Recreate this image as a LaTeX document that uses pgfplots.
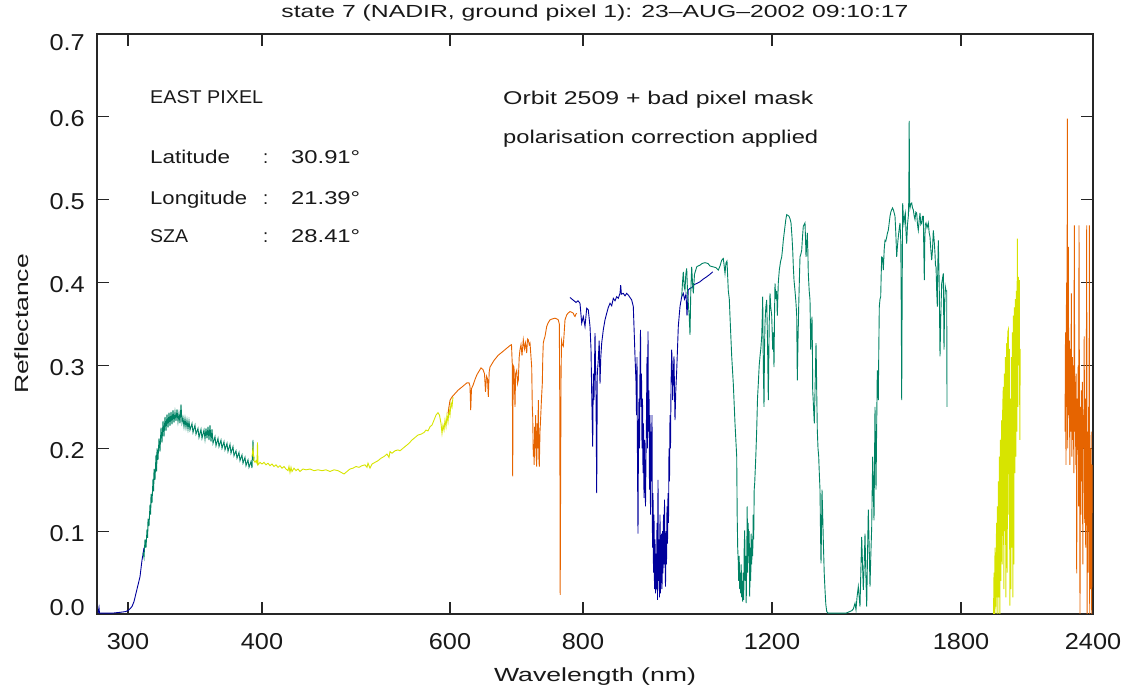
\documentclass[border=0pt]{standalone}
\usepackage{fontspec}
\setmainfont{Liberation Sans}
\usepackage{graphicx}
\usepackage{pgfplots}
\pgfplotsset{compat=1.18}
\definecolor{cnavy}{RGB}{0,0,155}
\definecolor{cteal}{RGB}{0,130,100}
\definecolor{cyel}{RGB}{215,228,0}
\definecolor{corange}{RGB}{230,100,0}
\newcommand\rb[2]{\resizebox{#1pt}{\height}{#2}}
\newcommand\tl[1]{\scalebox{1.1}[1]{#1}}
\begin{document}
\begin{tikzpicture}
\useasboundingbox (-97pt,-73pt) rectangle (1033pt,614pt);
\begin{axis}[
  at={(0pt,0pt)}, anchor=south west,
  scale only axis, width=996pt, height=580pt,
  xmin=97, xmax=1093, ymin=0, ymax=0.7,
  xtick={128,262,450,583,772,961,1093},
  xticklabels={\tl{300},\tl{400},\tl{600},\tl{800},\tl{1200},\tl{1800},\tl{2400}},
  ytick={0,0.1,0.2,0.3,0.4,0.5,0.6,0.7},
  yticklabels={\raisebox{8.5pt}[\height][\depth]{\tl{0.0}},\tl{0.1},\tl{0.2},\tl{0.3},\tl{0.4},\tl{0.5},\tl{0.6},\raisebox{-6.5pt}[\height][\depth]{\tl{0.7}}},
  tick align=inside, major tick length=12pt, minor tick num=0,
  axis line style={line width=1.2pt, black!85},
  every tick/.style={black!85, line width=1.2pt},
  xticklabel style={font=\fontsize{23pt}{23pt}\selectfont, text=black!90, anchor=north, inner sep=0pt, yshift=-19pt},
  yticklabel style={font=\fontsize{23pt}{23pt}\selectfont, text=black!90, anchor=east, inner sep=0pt, xshift=-12pt, yshift=-2pt},
  title={\rb{627}{state 7 (NADIR, ground pixel 1): 23--AUG--2002 09:10:17}},
  title style={at={(axis description cs:0.5,1.01724)}, anchor=base, inner sep=0pt, font=\fontsize{17.5pt}{19pt}\selectfont, text=black!90},
  xlabel={\rb{202}{Wavelength (nm)}},
  xlabel style={at={(axis description cs:0.5,-0.1172)}, anchor=base, inner sep=0pt, font=\fontsize{19pt}{20pt}\selectfont, text=black!90},
  ylabel={\rb{140}{Reflectance}},
  ylabel style={at={(axis description cs:-0.0683,0.5)}, anchor=base, inner sep=0pt, font=\fontsize{19pt}{20pt}\selectfont, text=black!90},
  every axis plot/.append style={line width=0.9pt, mark=none},
]
% channel 1
\addplot[cnavy] coordinates {(98,0.001) (99,0.008) (99.5,0.001) (105,0.001) (112,0.001) (120,0.002) (126,0.003) (129,0.005) (132,0.009) (134,0.015) (136,0.025) (138,0.035) (140,0.045) (141,0.055) (142,0.065) (143,0.072) (144,0.080)};
% channel 2
\addplot[cteal] coordinates {(143,0.074) (144,0.068) (145,0.09) (146,0.08) (147,0.102) (147.7,0.092) (148,0.115) (149,0.106) (150,0.132) (150.7,0.12) (151,0.145) (152,0.134) (153,0.163) (153.7,0.148) (154,0.175) (155,0.162) (156,0.192) (156.7,0.172) (157,0.2) (158,0.186) (159,0.212) (160,0.196) (161,0.225) (162,0.207) (163,0.233) (164,0.214) (165,0.238) (166,0.221) (167,0.241) (168,0.225) (169,0.243) (170,0.227) (171,0.244) (172,0.229) (173,0.246) (174,0.231) (175,0.244) (176,0.233) (177,0.247) (178,0.232) (179,0.242) (180,0.23) (181,0.253) (182,0.231) (183,0.237) (184,0.226) (185,0.236) (186,0.225) (187,0.234) (188,0.223) (189,0.233) (190,0.222) (192,0.23) (193,0.219) (195,0.228) (196,0.217) (198,0.224) (199,0.213) (201,0.223) (202,0.212) (204,0.222) (205,0.211) (206,0.224) (207,0.212) (208,0.226) (209,0.21) (210,0.228) (211,0.208) (212,0.223) (213,0.206) (215,0.214) (216,0.203) (218,0.212) (219,0.202) (221,0.21) (222,0.2) (224,0.208) (225,0.198) (227,0.206) (228,0.196) (230,0.205) (231,0.194) (233,0.202) (234,0.191) (236,0.197) (237,0.188) (239,0.195) (240,0.185) (242,0.192) (243,0.182) (245,0.189) (246,0.179) (248,0.186) (249,0.177) (251,0.184) (252,0.176) (253,0.21) (253.5,0.185) (254,0.19)};
% channel 3
\addplot[cyel] coordinates {(252,0.19) (253,0.2) (254,0.185) (255,0.183) (256,0.185) (257,0.182) (257.5,0.207) (258,0.18) (260,0.183) (262,0.181) (264,0.183) (266,0.18) (268,0.182) (270,0.179) (272,0.181) (274,0.178) (276,0.18) (278,0.177) (280,0.179) (282,0.176) (284,0.178) (286,0.175) (288,0.173) (289,0.178) (290,0.171) (291,0.177) (292,0.172) (294,0.176) (296,0.173) (298,0.175) (300,0.172) (303,0.175) (306,0.174) (310,0.175) (314,0.173) (318,0.174) (322,0.173) (326,0.174) (330,0.172) (334,0.174) (338,0.173) (341,0.171) (344,0.169) (347,0.172) (350,0.175) (353,0.176) (356,0.178) (359,0.177) (362,0.179) (365,0.18) (367,0.177) (368,0.182) (370,0.176) (372,0.181) (375,0.183) (378,0.185) (381,0.188) (384,0.19) (387,0.193) (389,0.189) (390,0.196) (392,0.194) (395,0.197) (398,0.198) (400,0.197) (403,0.2) (406,0.203) (409,0.206) (412,0.21) (415,0.213) (418,0.216) (421,0.217) (424,0.219) (426,0.222) (428,0.221) (430,0.226) (432,0.228) (434,0.234) (436,0.24) (438,0.243) (439.5,0.24) (441,0.23) (442,0.218) (443,0.228) (444,0.222) (445,0.234) (446,0.226) (447,0.24) (448,0.232) (449,0.247) (450,0.24) (451,0.255) (452,0.25) (453,0.262)};
% channel 4
\addplot[corange] coordinates {(448,0.242) (449,0.25) (450,0.258) (452,0.262) (455,0.266) (458,0.27) (461,0.273) (464,0.276) (467,0.279) (469,0.279) (470,0.275) (470.7,0.246) (471.5,0.272) (473,0.276) (475,0.283) (477,0.289) (479,0.293) (481,0.297) (483,0.295) (484.5,0.29) (485.5,0.268) (486.5,0.287) (487.5,0.284) (488.3,0.262) (489.2,0.292) (490,0.298) (492,0.302) (494,0.306) (496,0.309) (498,0.312) (500,0.314) (502,0.316) (504,0.318) (506,0.32) (508,0.322) (510,0.324) (511.5,0.325) (512.3,0.30) (512.7,0.166) (513.2,0.30) (514,0.298) (514.6,0.27) (515,0.25) (515.6,0.29) (516.7,0.294) (517.5,0.278) (518.3,0.282) (519.2,0.31) (520,0.319) (521,0.325) (522,0.312) (523.3,0.331) (524.5,0.32) (525.5,0.327) (526.7,0.315) (527.5,0.332) (528.3,0.331) (529.2,0.325) (530,0.327) (531,0.31) (531.7,0.298) (532.3,0.25) (532.7,0.238) (533.3,0.19) (533.8,0.205) (534.2,0.18) (534.7,0.226) (535.2,0.2) (535.7,0.24) (536.2,0.19) (536.7,0.178) (537.3,0.23) (537.8,0.2) (538.3,0.258) (538.8,0.19) (539.3,0.178) (540,0.22) (540.7,0.238) (541.5,0.26) (542.3,0.278) (542.8,0.31) (543.3,0.327) (544,0.331) (545,0.335) (546,0.342) (546.7,0.347) (548,0.351) (550,0.355) (552,0.356) (555,0.357) (557,0.356) (558.3,0.355) (559.3,0.35) (559.8,0.25) (560.2,0.023) (560.6,0.15) (561,0.28) (561.5,0.33) (562.3,0.325) (563.3,0.323) (565,0.355) (566.7,0.361) (568,0.363) (570,0.365) (572,0.364) (573.3,0.363) (574.3,0.36) (575,0.359) (576,0.362) (576.7,0.363)};
% channel 5
\addplot[cnavy] coordinates {(570,0.382) (573,0.379) (576,0.376) (578,0.378) (580,0.375) (581.7,0.351) (583.3,0.359) (585,0.347) (586.7,0.369) (588.3,0.367) (590,0.347) (591,0.32) (591.7,0.266) (592.7,0.202) (593.3,0.29) (594,0.258) (595,0.339) (596,0.266) (596.7,0.146) (597.3,0.29) (598.3,0.307) (599.2,0.33) (600,0.278) (600.8,0.31) (601.7,0.327) (603.3,0.343) (605,0.355) (606.7,0.363) (608.3,0.37) (610,0.375) (611.7,0.372) (613.3,0.381) (615,0.378) (616.7,0.383) (618.3,0.381) (620,0.387) (620.7,0.397) (621.4,0.386) (623.3,0.387) (625,0.384) (626.7,0.387) (628.3,0.385) (630,0.382) (631.7,0.379) (633.3,0.371) (634.2,0.34) (635,0.311) (636,0.28) (636.5,0.24) (637,0.31) (637.5,0.18) (638,0.097) (638.5,0.22) (639,0.26) (639.5,0.2) (640,0.3) (640.5,0.343) (641,0.25) (641.5,0.29) (642,0.2) (642.5,0.26) (643,0.17) (643.5,0.23) (644,0.14) (644.5,0.21) (645,0.17) (645.5,0.13) (646,0.19) (646.5,0.24) (647,0.31) (647.5,0.2) (648,0.341) (648.5,0.22) (649,0.27) (649.5,0.15) (650,0.24) (650.5,0.12) (651,0.22) (651.5,0.16) (652,0.24) (652.5,0.08) (653,0.146) (653.5,0.05) (654,0.12) (654.5,0.03) (655,0.09) (655.5,0.025) (656,0.073) (656.5,0.03) (657,0.11) (657.5,0.017) (658,0.162) (658.5,0.04) (659,0.09) (659.5,0.02) (660,0.12) (660.5,0.025) (661,0.08) (661.5,0.097) (662,0.03) (662.5,0.1) (663,0.049) (663.5,0.12) (664,0.06) (664.5,0.138) (665,0.07) (665.5,0.033) (666,0.1) (666.5,0.06) (667,0.13) (667.5,0.085) (668,0.146) (668.5,0.11) (669,0.2) (669.5,0.16) (670,0.24) (670.5,0.2) (671,0.274) (671.7,0.319) (672.2,0.3) (672.7,0.258) (673.3,0.29) (674,0.311) (674.5,0.27) (675,0.234) (675.8,0.27) (676.7,0.294) (677.5,0.32) (678.3,0.347) (679.2,0.36) (680,0.371) (681.7,0.383) (683.3,0.387) (684.5,0.38) (686,0.386) (687,0.36) (688.3,0.391) (690,0.393) (692,0.394) (693.3,0.397) (695,0.398) (697,0.399) (700,0.401) (703,0.404) (706.7,0.407) (710,0.41) (712.7,0.413)};
% channel 6
\addplot[cteal] coordinates {(681.7,0.383) (682.5,0.40) (683.3,0.413) (684.2,0.395) (685,0.391) (685.8,0.41) (686.7,0.417) (687.5,0.39) (688.3,0.375) (689.2,0.36) (690,0.337) (690.8,0.39) (691.7,0.419) (692.5,0.40) (693.3,0.387) (694.5,0.41) (695.5,0.414) (696.7,0.419) (698,0.42) (700,0.421) (702,0.423) (705,0.424) (708,0.423) (710,0.42) (713,0.419) (716,0.418) (718.3,0.415) (720,0.42) (721.7,0.427) (723.3,0.429) (724,0.422) (725,0.411) (726,0.424) (727,0.426) (728.3,0.39) (729.3,0.38) (730,0.359) (731.7,0.311) (733.3,0.278) (735,0.23) (736.7,0.19) (737.2,0.117) (737.7,0.08) (738.2,0.065) (738.7,0.04) (739.2,0.07) (739.7,0.03) (740.2,0.05) (740.7,0.025) (741.2,0.06) (741.7,0.02) (742.2,0.04) (742.7,0.015) (743.2,0.05) (743.7,0.017) (744.2,0.08) (744.7,0.101) (745.2,0.04) (745.7,0.07) (746.2,0.013) (746.7,0.06) (747.2,0.13) (747.7,0.05) (748.2,0.11) (748.7,0.07) (749.2,0.1) (749.7,0.021) (750.2,0.08) (750.7,0.04) (751.2,0.097) (751.7,0.06) (752.2,0.09) (752.7,0.07) (753.2,0.12) (753.7,0.09) (754.2,0.15) (754.7,0.158) (755.8,0.19) (756.7,0.222) (757.5,0.26) (758.3,0.278) (759.2,0.3) (760,0.311) (760.8,0.32) (761.7,0.335) (762.3,0.36) (762.7,0.383) (763.3,0.3) (764,0.25) (764.5,0.32) (765,0.351) (765.8,0.37) (766.7,0.379) (767.5,0.33) (768.3,0.258) (769.2,0.35) (770,0.387) (770.8,0.37) (771.7,0.36) (772.2,0.34) (772.7,0.319) (773.3,0.34) (774,0.298) (774.5,0.36) (775,0.399) (775.8,0.38) (776.7,0.39) (777.3,0.36) (778.3,0.40) (779.3,0.415) (780.5,0.425) (781.7,0.431) (782.5,0.44) (783.3,0.451) (784.2,0.46) (785,0.468) (785.8,0.476) (786.7,0.482) (788,0.481) (789,0.48) (790,0.477) (791,0.472) (792,0.455) (792.7,0.439) (793.3,0.42) (794,0.403) (795,0.39) (796,0.375) (796.7,0.36) (797.3,0.282) (798,0.33) (798.7,0.371) (799.3,0.40) (800,0.431) (801,0.435) (801.7,0.439) (802.5,0.455) (803.3,0.468) (804.2,0.47) (805,0.472) (805.6,0.45) (806,0.431) (806.7,0.445) (807.3,0.46) (807.8,0.44) (808.3,0.411) (809.2,0.39) (810,0.379) (810.5,0.34) (810.7,0.319) (811.3,0.34) (812,0.359) (812.4,0.32) (812.7,0.27) (813.5,0.25) (814.3,0.23) (815.2,0.28) (816,0.327) (816.4,0.30) (816.7,0.27) (817.3,0.222) (818,0.2) (818.7,0.19) (819.3,0.17) (820,0.15) (820.5,0.1) (821,0.061) (821.5,0.1) (822,0.15) (822.7,0.12) (823.3,0.089) (824.2,0.05) (825,0.029) (825.8,0.012) (826.7,0.003) (828,0.001) (833,0.001) (840,0.001) (846,0.001) (851.7,0.004) (853.3,0.006) (855,0.013) (856,0.005) (857,0.02) (858.3,0.033) (859.2,0.02) (860,0.009) (860.8,0.05) (861.7,0.093) (862.5,0.06) (863.3,0.029) (864.2,0.06) (865,0.097) (865.8,0.05) (866.7,0.009) (867.5,0.07) (868.3,0.126) (869.2,0.08) (870,0.033) (870.8,0.07) (871.7,0.105) (872.2,0.15) (872.7,0.19) (873.3,0.15) (874,0.113) (874.5,0.18) (875,0.25) (875.5,0.2) (876,0.15) (876.7,0.23) (877.3,0.294) (877.8,0.27) (878.3,0.258) (878.8,0.32) (879.3,0.371) (880,0.38) (880.7,0.383) (881.2,0.41) (881.7,0.431) (882.5,0.43) (883.3,0.415) (884.2,0.44) (885,0.451) (885.8,0.45) (886.7,0.455) (887.5,0.46) (888.3,0.463) (889.2,0.472) (890,0.48) (890.8,0.485) (891.7,0.488) (892.5,0.49) (893.3,0.488) (894.2,0.484) (895,0.48) (895.8,0.46) (896.7,0.431) (897.5,0.445) (898.3,0.455) (899.2,0.465) (900,0.472) (900.8,0.45) (901.3,0.36) (901.7,0.258) (902.2,0.40) (902.7,0.496) (903.3,0.48) (904,0.472) (904.7,0.48) (905.3,0.484) (906,0.46) (906.7,0.447) (907.5,0.47) (908.3,0.48) (908.8,0.5) (909.2,0.595) (909.6,0.5) (910,0.49) (910.8,0.495) (911.7,0.496) (912.5,0.49) (913.3,0.488) (914.2,0.48) (915,0.476) (915.8,0.485) (916.7,0.484) (917.5,0.47) (918.3,0.463) (919.2,0.475) (920,0.484) (920.8,0.47) (921.7,0.472) (922.5,0.48) (923.3,0.48) (923.8,0.44) (924.3,0.403) (924.8,0.45) (925.3,0.47) (926,0.472) (927,0.466) (928.3,0.472) (929.2,0.46) (930,0.455) (930.8,0.44) (931.7,0.427) (932.5,0.44) (933.3,0.463) (934.2,0.45) (935,0.435) (935.5,0.42) (936,0.42) (936.7,0.39) (937.3,0.371) (937.8,0.42) (938.3,0.451) (939.2,0.40) (940,0.311) (940.8,0.36) (941.7,0.399) (942.5,0.405) (943.3,0.411) (943.7,0.36) (944,0.319) (944.6,0.37) (945.3,0.395) (946,0.39) (946.7,0.39) (947,0.25)};
% channel 7
\addplot[cyel] coordinates {(993.5,0.0) (994,0.05) (994.5,0.0) (995,0.08) (995.5,0.01) (995.7,0.045) (996,0.0) (996.5,0.11) (997,0.02) (997.3,0.13) (997.8,0.0) (998.3,0.16) (998.8,0.02) (999.3,0.19) (999.8,0.0) (1000.3,0.21) (1000.8,0.04) (1001.3,0.20) (1001.7,0.234) (1002.2,0.06) (1002.7,0.25) (1003.3,0.274) (1003.8,0.03) (1004.3,0.29) (1004.8,0.10) (1005.3,0.31) (1005.8,0.02) (1006.3,0.30) (1006.7,0.327) (1007.2,0.05) (1007.7,0.34) (1008.3,0.343) (1008.8,0.12) (1009.3,0.32) (1009.8,0.01) (1010.3,0.26) (1010.8,0.03) (1011.3,0.31) (1011.8,0.08) (1012.3,0.34) (1012.8,0.02) (1013.3,0.36) (1013.8,0.06) (1014.3,0.37) (1014.8,0.17) (1015.3,0.38) (1015.8,0.19) (1016.3,0.39) (1016.8,0.22) (1017.3,0.453) (1017.8,0.25) (1018.3,0.407) (1018.8,0.30) (1019.3,0.403) (1019.8,0.21) (1020.2,0.32)};
% channel 8
\addplot[corange] coordinates {(1065,0.22) (1065.5,0.34) (1066,0.18) (1066.5,0.40) (1067,0.25) (1067.3,0.598) (1067.7,0.20) (1068.3,0.443) (1068.8,0.24) (1069.3,0.33) (1069.8,0.18) (1070.3,0.32) (1070.8,0.22) (1071.3,0.387) (1071.8,0.19) (1072.3,0.31) (1072.8,0.21) (1073.3,0.30) (1073.8,0.17) (1074.3,0.469) (1074.8,0.22) (1075.3,0.28) (1075.8,0.18) (1076.2,0.29) (1076.7,0.049) (1077.2,0.26) (1077.7,0.20) (1078.2,0.30) (1078.6,0.13) (1079,0.469) (1079.5,0.21) (1080,0.0) (1080.4,0.25) (1080.8,0.12) (1081.3,0.27) (1081.8,0.16) (1082.3,0.28) (1082.8,0.06) (1083.3,0.24) (1083.8,0.20) (1084.2,0.335) (1084.7,0.11) (1085.2,0.26) (1085.7,0.08) (1086.2,0.23) (1086.7,0.469) (1087.1,0.0) (1087.6,0.22) (1088.1,0.05) (1088.6,0.25) (1089,0.10) (1089.3,0.469) (1089.7,0.0) (1090.2,0.20) (1090.7,0.03) (1091.2,0.22) (1091.7,0.0) (1092.2,0.18)};
% annotations
\begin{scope}[every node/.style={anchor=base west, inner sep=0pt, font=\fontsize{18.5pt}{20pt}\selectfont, text=black!90}]
\node at (axis cs:150,0.6167) {\rb{113}{EAST PIXEL}};
\node at (axis cs:150,0.5443) {\rb{80}{Latitude}};
\node at (axis cs:263,0.5443) {:};
\node at (axis cs:291,0.5443) {\rb{69}{30.91°}};
\node at (axis cs:150,0.4948) {\rb{97}{Longitude}};
\node at (axis cs:263,0.4948) {:};
\node at (axis cs:291,0.4948) {\rb{69}{21.39°}};
\node at (axis cs:150,0.4478) {\rb{38}{SZA}};
\node at (axis cs:263,0.4478) {:};
\node at (axis cs:291,0.4478) {\rb{69}{28.41°}};
\node at (axis cs:503,0.6155) {\rb{310}{Orbit 2509 + bad pixel mask}};
\node at (axis cs:503,0.5684) {\rb{315}{polarisation correction applied}};
\end{scope}
\end{axis}
\end{tikzpicture}
\end{document}
